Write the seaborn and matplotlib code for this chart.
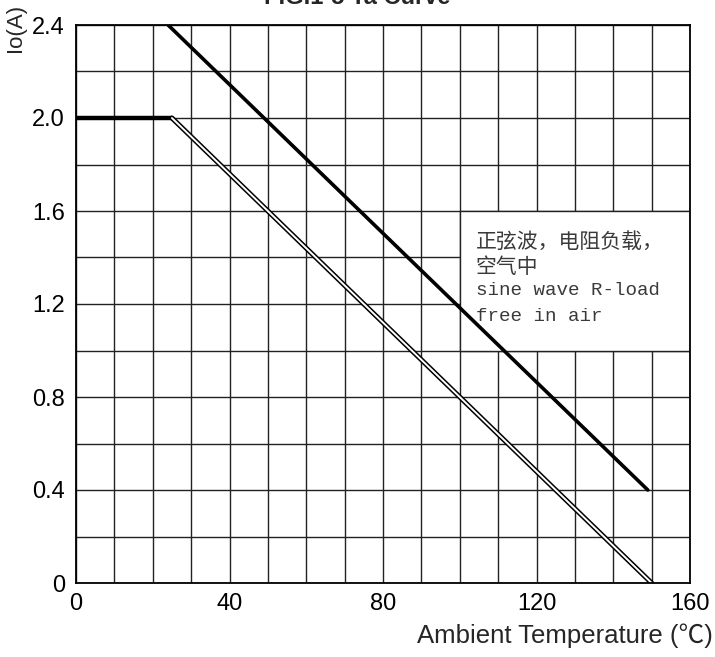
import matplotlib
matplotlib.use("Agg")
import matplotlib.pyplot as plt
import seaborn as sns
import pandas as pd
from matplotlib.patches import Rectangle

# Data
temp_flat = [0, 25]
io_flat = [2.0, 2.0]
temp_thick = [24, 149]
io_thick = [2.4, 0.4]
temp_double = [25, 150]
io_double = [2.0, 0.0]
x_ticks = [0, 40, 80, 120, 160]
y_ticks = [0, 0.4, 0.8, 1.2, 1.6, 2.0, 2.4]
y_tick_labels = ["0", "0.4", "0.8", "1.2", "1.6", "2.0", "2.4"]
note_cn = ["正弦波，电阻负载，", "空气中"]
note_en = ["sine wave R-load", "free in air"]

sns.set_theme(style="white")
plt.rcParams['font.family'] = ['Liberation Sans', 'DejaVu Sans']

fig = plt.figure(figsize=(7.15, 6.57), dpi=100)
ax = fig.add_axes([76/715, 74/657, 614/715, 558/657])

# grid
for gx in range(0, 161, 10):
    ax.axvline(gx, color="#222222", lw=1.0, zorder=1)
for gy in [i * 0.2 for i in range(13)]:
    ax.axhline(gy, color="#222222", lw=1.0, zorder=1)

df_flat = pd.DataFrame({"T": temp_flat, "Io": io_flat})
df_thick = pd.DataFrame({"T": temp_thick, "Io": io_thick})
df_double = pd.DataFrame({"T": temp_double, "Io": io_double})

sns.lineplot(data=df_flat, x="T", y="Io", ax=ax, color="black", lw=3.2, zorder=5)
sns.lineplot(data=df_thick, x="T", y="Io", ax=ax, color="black", lw=2.6, zorder=5)
sns.lineplot(data=df_double, x="T", y="Io", ax=ax, color="black", lw=3.6, zorder=5)
sns.lineplot(data=df_double, x="T", y="Io", ax=ax, color="white", lw=1.4, zorder=6)

# annotation box
ax.add_patch(Rectangle((100, 1.0), 60, 0.6, facecolor="white", edgecolor="#222222",
                       lw=1.0, zorder=3))
cn_y = [1.467, 1.360]
en_y = [1.258, 1.146]
for s, yy in zip(note_cn, cn_y):
    ax.text(104.2, yy, s, family=['Noto Sans CJK SC', 'DejaVu Sans'], fontsize=15,
            color="#3a3a3a", va="center", ha="left", zorder=4, fontweight="light")
for s, yy in zip(note_en, en_y):
    ax.text(104.2, yy, s, family=['Liberation Mono', 'DejaVu Sans Mono'], fontsize=13.8,
            color="#3a3a3a", va="center", ha="left", zorder=4)

ax.set_xlim(0, 160)
ax.set_ylim(0, 2.4)
ax.set_xticks(x_ticks)
ax.set_xticklabels([str(t) for t in x_ticks])
ax.set_yticks(y_ticks)
ax.set_yticklabels(y_tick_labels)
ax.tick_params(axis="both", length=0, labelsize=17, colors="black")
ax.tick_params(axis="x", pad=7)
ax.tick_params(axis="y", pad=8)
for s in ax.spines.values():
    s.set_color("black")
    s.set_linewidth(1.3)
    s.set_zorder(7)
ax.set_xlabel("")
ax.set_ylabel("")

fig.text(15/715, 1 - 28/657, "Io(A)", rotation=90, fontsize=16, ha="center", va="center")
fig.text(713/715, 1 - 636/657, "Ambient Temperature (℃)", fontsize=18.5, ha="right", va="center",
         family=['Liberation Sans', 'Noto Sans CJK SC', 'DejaVu Sans'])
fig.text(0.5, 1 + 3/657, "FIG.1-5 Ta Curve", fontsize=17, fontweight="bold", ha="center", va="center")

fig.savefig("out.png", dpi=100)
